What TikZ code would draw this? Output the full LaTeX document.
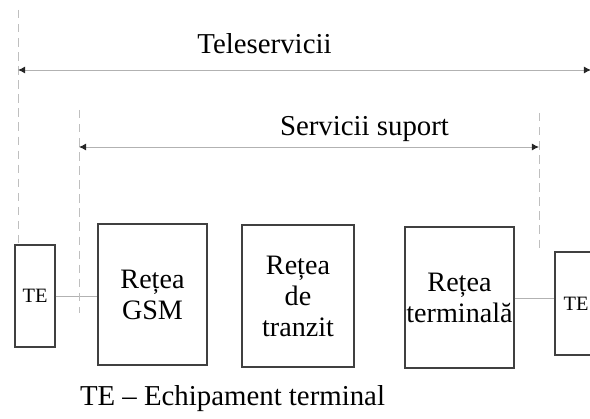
\documentclass[tikz,border=0pt]{standalone}
\usepackage{fontspec}
\setmainfont{Liberation Serif}
\usepackage{tikz}
\usetikzlibrary{arrows.meta,calc}

\begin{document}
\begin{tikzpicture}[x=0.025cm,y=-0.025cm,
    net/.style={draw=black!75,line width=0.9pt,align=center,inner sep=0pt,
        font=\fontsize{20}{22}\selectfont},
    term/.style={draw=black!75,line width=0.9pt,inner sep=0pt,
        minimum width=1cm,minimum height=2.55cm,font=\fontsize{14.5}{16}\selectfont},
    guide/.style={draw=black!25,dashed,dash pattern=on 6pt off 4pt,line width=0.6pt},
    span/.style={draw=black!30,line width=0.7pt,
        {Latex[length=1.8mm,width=1.8mm,color=black!85]}-{Latex[length=1.8mm,width=1.8mm,color=black!85]}},
    link/.style={draw=black!30,line width=0.7pt},
    caption/.style={font=\fontsize{20.5}{22}\selectfont}]

    \clip (0,0) rectangle (590,419);

    % Networks and terminals
    \node[term] (teA) at (35,296) {TE};
    \node[net,minimum width=2.725cm,minimum height=3.525cm] (gsm) at (152.5,294.5) {Rețea\\GSM};
    \node[net,minimum width=2.8cm,minimum height=3.55cm] (tranzit) at (298,296) {Rețea\\de\\tranzit};
    \node[net,minimum width=2.725cm,minimum height=3.525cm] (termnet) at (459.5,297.5) {Rețea\\terminală};
    \node[term,minimum width=1.05cm,minimum height=2.575cm] (teB) at (576,303.5) {TE};

    \draw[link] (teA.east) -- (teA.east -| gsm.west);
    \draw[link] (termnet.east |- 0,298) -- (teB.west |- 0,298);

    % Define the guide tops as coordinates
    \coordinate (teleL) at (18,10);
    \coordinate (supL) at (79,110);
    \coordinate (supR) at (539,113);
    \coordinate (teleR) at (591,70);

    \draw[guide] (teleL) -- (teleL |- teA.north);
    \draw[guide] (supL) -- ($(supL |- teA.east)+(0,17)$);
    \draw[guide] (supR) -- ($(supR |- teB.north)+(0,-2)$);

    \draw[span] (teleL |- teleR) -- (teleR);
    \draw[span] (supL |- 0,147) -- (supR |- 0,147);

    \node[caption] (tele) at (264.5,44) {Teleservicii};
    \node[caption] (sup) at (364.5,129) {Servicii suport};
    \node[caption] (legend) at (232.5,399) {TE -- Echipament terminal};

\end{tikzpicture}
\end{document}
